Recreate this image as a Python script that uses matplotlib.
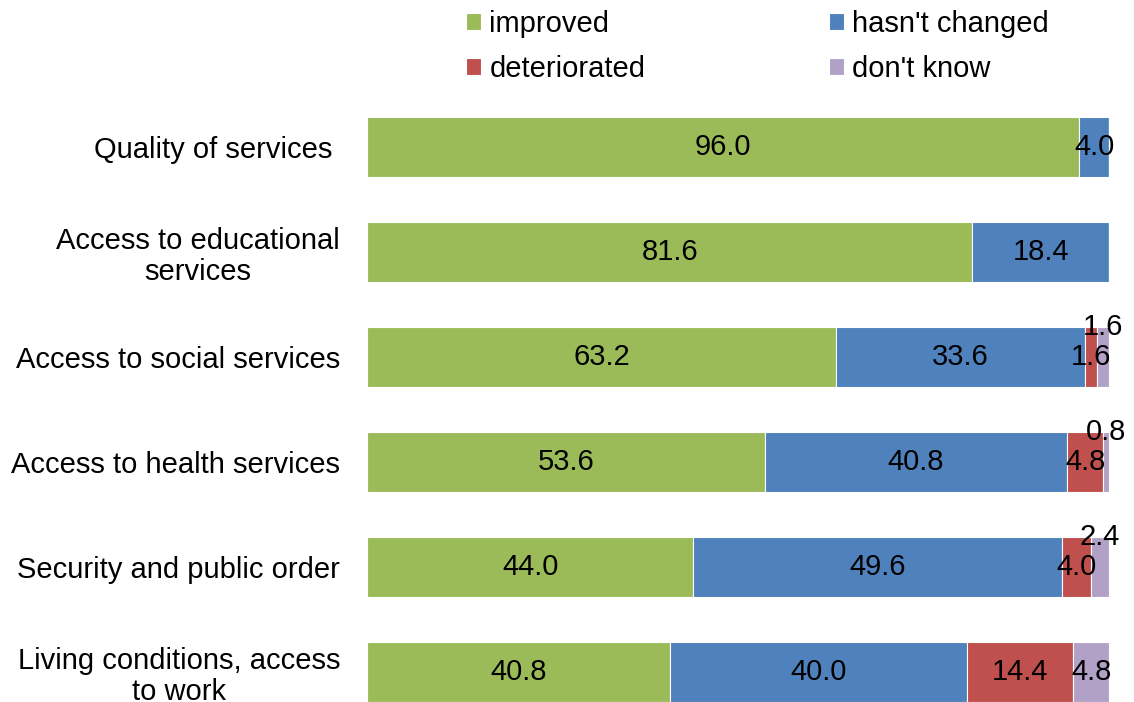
import matplotlib
matplotlib.use("Agg")
import matplotlib.pyplot as plt

plt.rcParams['font.family'] = ['Liberation Sans', 'DejaVu Sans']

categories = [
    "Quality of services ",
    "Access to educational\nservices",
    "Access to social services",
    "Access to health services",
    "Security and public order",
    "Living conditions, access\nto work",
]
series_names = ["improved", "hasn't changed", "deteriorated", "don't know"]
improved = [96.0, 81.6, 63.2, 53.6, 44.0, 40.8]
unchanged = [4.0, 18.4, 33.6, 40.8, 49.6, 40.0]
deteriorated = [0.0, 0.0, 1.6, 4.8, 4.0, 14.4]
dont_know = [0.0, 0.0, 1.6, 0.8, 2.4, 4.8]
colors = ["#9BBB59", "#4F81BD", "#C0504D", "#B2A1C7"]

FS = 21
W, H = 1134, 702
fig = plt.figure(figsize=(W / 100, H / 100), dpi=100)
ax = fig.add_axes([367 / W, 0, (1109 - 367) / W, 1])

ypos = list(range(len(categories)))
left = [0.0] * len(categories)
handles = []
for name, vals, col in zip(series_names, [improved, unchanged, deteriorated, dont_know], colors):
    bars = ax.barh(ypos, vals, left=left, height=0.57, color=col,
                   edgecolor="white", linewidth=0.8, label=name)
    handles.append(bars)
    for i, v in enumerate(vals):
        if v <= 0:
            continue
        cx = left[i] + v / 2
        cy = ypos[i]
        # narrow "don't know" segments get their label lifted above the bar
        if name == "don't know" and v < 3:
            cy -= 0.29
        ax.text(cx, cy, f"{v:.1f}", ha="center", va="center", fontsize=FS, color="black")
    left = [l + v for l, v in zip(left, vals)]

ax.set_xlim(0, 100)
ax.set_ylim((H - 147) / 105, -147 / 105)
ax.set_yticks(ypos)
ax.set_yticklabels(categories, fontsize=FS, linespacing=1.15, multialignment="center")
ax.tick_params(axis="y", length=0, pad=19.4)
ax.set_xticks([])
for s in ax.spines.values():
    s.set_visible(False)

order = [0, 2, 1, 3]
fig.legend([handles[k] for k in order], [series_names[k] for k in order],
           ncol=2, loc="upper left", bbox_to_anchor=(466 / W, 1 - 10 / H),
           frameon=False, fontsize=FS, handlelength=0.5, handleheight=0.5,
           handletextpad=0.3, columnspacing=6.3, labelspacing=0.57,
           borderpad=0, borderaxespad=0)

fig.savefig("out.png", dpi=100)
